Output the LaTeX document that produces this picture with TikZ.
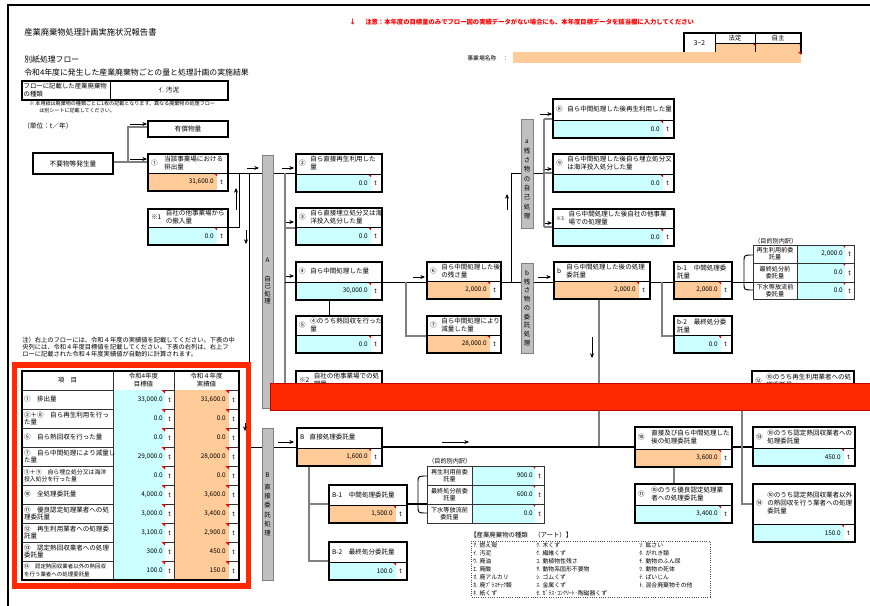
\documentclass[tikz,border=0pt]{standalone}
\usepackage{fontspec}
\setmainfont{Noto Sans CJK JP}
\usetikzlibrary{fit,arrows.meta}
\definecolor{peach}{HTML}{FFCC99}
\definecolor{cyanb}{HTML}{CCFFFF}
\definecolor{barg}{HTML}{C0C0C0}
\definecolor{lineg}{HTML}{808080}
\definecolor{redbar}{HTML}{FF2A00}
\definecolor{notered}{HTML}{FF0000}
\tikzset{
  lbl/.style={inner sep=1pt, font=\fontsize{4.9}{6}\selectfont, align=left},
  val/.style={inner sep=0pt, font=\fontsize{4.8}{5.5}\selectfont},
  glin/.style={draw=lineg, line width=1.3pt},
  blin/.style={draw=black, line width=0.7pt},
  bblin/.style={draw=black, line width=1.3pt},
  sarr/.style={-{Stealth[length=3.5pt,width=3pt]}, line width=0.5pt},
  vbar/.style={fill=barg, draw=lineg, line width=0.7pt},
  tline/.style={draw=black!80, line width=0.7pt},
  small/.style={inner sep=0pt, font=\fontsize{4.5}{5.4}\selectfont, align=center},
}
\newcommand\lb[3][3.5pt]{\begin{tabular}{@{}l@{\hspace{#1}}l@{}}#2&\begin{tabular}{@{}l@{}}#3\end{tabular}\end{tabular}}
% name, x1, y1, x2, y2, label, value, fill, border width
\newcommand\fbx[9]{%
  \fill[white] (#2,#3) rectangle (#4,#5);
  \fill[#8] (#2,#5-18) rectangle (#4-11,#5);
  \fill[red] (#4-11,#5-18) -- (#4-14.5,#5-18) -- (#4-11,#5-14.5) -- cycle;
  \draw[line width=0.7pt] (#2,#5-18) -- (#4,#5-18);
  \node[lbl,anchor=west] at (#2+1.5,{(#3+#5-18)/2}) {#6};
  \node[val,anchor=east] at (#4-14,#5-9) {#7};
  \node[val] at (#4-6.5,#5-9) {t};
  \node[inner sep=0pt,outer sep=0pt,fit={(#2,#3) (#4,#5)},draw,line width=#9] (#1) {};
}
% left table row: y1, label, v1, v2, fontsize
\newcommand\trow[5]{%
  \fill[cyanb] (113,#1) rectangle (165,#1+19);
  \fill[peach] (174,#1) rectangle (229,#1+19);
  \fill[red] (165,#1) -- (161.5,#1) -- (165,#1+3.5) -- cycle;
  \fill[red] (229,#1) -- (225.5,#1) -- (229,#1+3.5) -- cycle;
  \node[anchor=west, align=left, inner sep=1pt, font=\fontsize{#5}{5.4}\selectfont] at (22.5,#1+9.5) {#2};
  \node[val, anchor=east] at (163,#1+9.5) {#3};
  \node[val] at (169.5,#1+10) {t};
  \node[val, anchor=east] at (226,#1+9.5) {#4};
  \node[val] at (233.5,#1+10) {t};
  \draw[tline] (22,#1+19) -- (239,#1+19);
}
% sub table row: x1, xs, x2, y1, y2, label, value
\newcommand\srow[7]{%
  \fill[cyanb] (#2,#4) rectangle (#3-9,#5);
  \fill[red] (#3-9,#4) -- (#3-12,#4) -- (#3-9,#4+3) -- cycle;
  \node[small, font=\fontsize{4.6}{5.4}\selectfont] at ({(#1+#2)/2},{(#4+#5)/2}) {#6};
  \node[val, anchor=east] at (#3-11,{(#4+#5)/2}) {#7};
  \node[val] at (#3-4.5,{(#4+#5)/2+0.5}) {t};
  \draw[tline] (#1,#4) rectangle (#3,#5);
  \draw[tline] (#2,#4) -- (#2,#5);
}
\newcommand\lgi[3]{\node[anchor=west, inner sep=0pt, font=\fontsize{4.4}{5}\selectfont] at (#1,#2) {#3};}

\begin{document}
\begin{tikzpicture}[x=0.75pt,y=-0.75pt]
\useasboundingbox (0,0) rectangle (870,606);
\fill[white] (0,0) rectangle (870,606);

% outer frame
\draw[line width=1.5pt] (8,606) -- (8,5) -- (872,5);

% header
\node[anchor=west, inner sep=0pt, font=\fontsize{6.2}{7}\selectfont] (title) at (24,32) {産業廃棄物処理計画実施状況報告書};
\node[anchor=west, inner sep=0pt, font=\fontsize{5.9}{7}\selectfont] (sub1) at (24,60) {別紙処理フロー};
\node[anchor=west, inner sep=0pt, font=\fontsize{5.9}{7}\selectfont] (sub2) at (24,73) {令和4年度に発生した産業廃棄物ごとの量と処理計画の実施結果};
\draw[line width=1pt] (22,81) rectangle (228,100);
\draw[line width=0.7pt] (110,81) -- (110,100);
\node[anchor=west, align=left, inner sep=1pt, font=\fontsize{4.8}{6}\selectfont] (kindl) at (22,90.5) {フローに記載した産業廃棄物\\の種類};
\node[inner sep=0pt, font=\fontsize{4.9}{6}\selectfont] (kindv) at (169,90.5) {ｲ. 汚泥};
\node[anchor=west, inner sep=0pt, font=\fontsize{3.8}{5}\selectfont] (n1) at (29,104) {※ 本用紙は廃棄物の種類ごとに1枚の記載となります。異なる廃棄物の処理フロー};
\node[anchor=west, inner sep=0pt, font=\fontsize{3.8}{5}\selectfont] (n2) at (39,111) {は別シートに記載してください。};
\node[anchor=west, inner sep=0pt, font=\fontsize{5}{6}\selectfont] (unit) at (23,125.5) {（単位：t／年）};

\node[anchor=west, inner sep=0pt, text=notered, font=\bfseries\fontsize{5}{6}\selectfont] (ar0) at (349,22) {↓};
\node[anchor=west, inner sep=0pt, text=notered, font=\bfseries\fontsize{4.75}{6}\selectfont] (warn) at (365,22) {注意：本年度の目標量のみでフロー図の実績データがない場合にも、本年度目標データを該当欄に入力してください};

% 3-2 box
\fill[peach] (715,43) rectangle (801,53);
\fill[red] (755,43) -- (752,43) -- (755,46) -- cycle;
\fill[red] (801,43) -- (798,43) -- (801,46) -- cycle;
\draw[line width=1pt] (684,33) rectangle (801,53);
\draw[line width=0.7pt] (715,33) -- (715,53) (755,33) -- (755,53) (715,43) -- (801,43);
\node[inner sep=0pt, font=\fontsize{5}{6}\selectfont] (k32) at (699.5,43) {3−2};
\node[inner sep=0pt, font=\fontsize{4.8}{6}\selectfont] (khou) at (735,38) {法定};
\node[inner sep=0pt, font=\fontsize{4.8}{6}\selectfont] (kjis) at (778,38) {自主};
\node[anchor=west, inner sep=0pt, font=\fontsize{4.4}{6}\selectfont] (jname) at (467,58) {事業場名称　：};
\fill[peach] (513,52) rectangle (801,63);
\fill[red] (801,52) -- (798,52) -- (801,55) -- cycle;

% ---------- connectors ----------
\draw[glin] (113,162) -- (148,162);
\draw[glin] (128,162) -- (128,127) -- (148,127);
\draw[blin] (228,173) -- (262,173);
\draw[blin] (228,227) -- (239,227) -- (239,173);
\draw[blin] (249,173) -- (249,447) -- (262,447);
\draw[blin] (273,173) -- (296,173);
\draw[glin] (285,173) -- (285,383);
\draw[glin] (285,228) -- (296,228);
\draw[blin] (285,282) -- (296,282);
\draw[blin] (329,300) -- (329,316);
\draw[blin] (382,282) -- (427,282);
\draw[glin] (406,282) -- (406,336) -- (427,336);
\draw[blin] (501,282) -- (521,282);
\draw[blin] (511,282) -- (511,173) -- (521,173);
\draw[blin] (533,173) -- (544,173);
\draw[glin] (544,119) -- (544,227);
\draw[glin] (544,119) -- (553,119);
\draw[glin] (544,173) -- (553,173);
\draw[glin] (544,227) -- (553,227);
\draw[blin] (533,282) -- (554,282);
\draw[blin] (650,282) -- (674,282);
\draw[glin] (662,282) -- (662,336) -- (674,336);
\draw[blin] (732,282) -- (753,282);
\draw[blin] (753,255) .. controls (744,255) .. (744,262) -- (744,283) .. controls (744,290) .. (753,290);
\draw[glin] (599,299) -- (599,447);
\draw[blin] (273,447) -- (297,447);
\draw[bblin] (382,447) -- (635,447);
\draw[bblin] (732,447) -- (753,447);
\draw[glin] (742,383) -- (742,504) -- (753,504);
\draw[glin] (674,467) -- (674,484);
\draw[glin] (309,466) -- (309,561) -- (329,561);
\draw[glin] (309,504) -- (329,504);
\draw[bblin] (407,504) -- (427,504);
\draw[blin] (427,476) .. controls (418,476) .. (418,483) -- (418,506) .. controls (418,513) .. (427,513);

% ---------- bars ----------
\filldraw[vbar] (262,155) rectangle (273,408);
\node[inner sep=0pt, font=\fontsize{4.8}{6}\selectfont] (tA) at (267.5,260) {A};
\node[small, font=\fontsize{4.8}{5.5}\selectfont] (tA2) at (267.5,290) {自\\己\\処\\理};
\filldraw[vbar] (262,428) rectangle (273,580);
\node[inner sep=0pt, font=\fontsize{4.8}{6}\selectfont] (tB) at (267.5,475) {B};
\node[small, font=\fontsize{4.8}{6.9}\selectfont] (tB2) at (267.5,510) {直\\接\\委\\託\\処\\理};
\filldraw[vbar] (521,119) rectangle (533,228);
\node[small, font=\fontsize{4.8}{7}\selectfont] (ta) at (527,179.5) {a\\残\\さ\\物\\の\\自\\己\\処\\理};
\filldraw[vbar] (521,263) rectangle (533,353);
\node[small, font=\fontsize{4.8}{6.56}\selectfont] (tb) at (527,308) {b\\残\\さ\\物\\の\\委\\託\\処\\理};

% ---------- boxes ----------
\node[draw, line width=1.5pt, fill=white, inner sep=0pt, minimum width=60pt, minimum height=15.75pt, font=\fontsize{5}{6}\selectfont] (nf) at (73,163.5) {不要物等発生量};
\node[draw, line width=1.5pt, fill=white, inner sep=0pt, minimum width=60pt, minimum height=12pt, font=\fontsize{5}{6}\selectfont] (yuk) at (188,129) {有償物量};

\fbx{b1}{148}{154}{228}{191}{\lb[5pt]{①}{当該事業場における\\排出量}}{31,600.0}{peach}{1.5pt}
\fbx{s1}{148}{209}{228}{245}{\lb{※1}{自社の他事業場から\\の搬入量}}{0.0}{cyanb}{1.5pt}
\fbx{b2}{296}{154}{382}{192}{\lb{②}{自ら直接再生利用した\\量}}{0.0}{cyanb}{1.5pt}
\fbx{b3}{296}{208}{382}{245}{\lb{③}{自ら直接埋立処分又は海\\洋投入処分した量}}{0.0}{cyanb}{1.5pt}
\fbx{b4}{296}{262}{382}{300}{\lb{④}{自ら中間処理した量}}{30,000.0}{cyanb}{1.5pt}
\fbx{b5}{296}{316}{382}{353}{\lb{⑤}{④のうち熱回収を行った\\量}}{0.0}{cyanb}{1.5pt}
\fbx{s2}{296}{371}{382}{409}{\lb{※2}{自社の他事業場での処\\理量}}{0.0}{cyanb}{1.5pt}
\fbx{b6}{427}{262}{501}{299}{\lb{⑥}{自ら中間処理した後\\の残さ量}}{2,000.0}{peach}{1.5pt}
\fbx{b7}{427}{316}{501}{353}{\lb{⑦}{自ら中間処理により\\減量した量}}{28,000.0}{peach}{1.5pt}
\fbx{b8}{553}{99}{674}{138}{\lb{⑧}{自ら中間処理した後再生利用した量}}{0.0}{cyanb}{1.5pt}
\fbx{b9}{553}{154}{674}{192}{\lb{⑨}{自ら中間処理した後自ら埋立処分又\\は海洋投入処分した量}}{0.0}{cyanb}{1.5pt}
\fbx{s3}{553}{209}{674}{246}{\lb{{\fontsize{3.8}{4}\selectfont ※3}}{自ら中間処理した後自社の他事業\\場での処理量}}{0.0}{cyanb}{0.8pt}
\fbx{bb}{554}{262}{650}{299}{\lb[4pt]{b}{自ら中間処理した後の処理\\委託量}}{2,000.0}{peach}{0.8pt}
\fbx{bb1}{674}{262}{732}{299}{b-1\hspace{5pt}中間処理委\\託量}{2,000.0}{peach}{0.8pt}
\fbx{bb2}{674}{316}{732}{353}{b-2\hspace{5pt}最終処分委\\託量}{0.0}{cyanb}{0.8pt}
\fbx{b12}{752}{371}{854}{410}{\lb{⑫}{⑩のうち再生利用業者への処\\理委託量}}{}{cyanb}{1.5pt}
\fbx{BB}{297}{428}{382}{466}{\lb[4pt]{B}{直接処理委託量}}{1,600.0}{peach}{1pt}
\fbx{BB1}{329}{485}{407}{523}{B-1\hspace{5pt}中間処理委託量}{1,500.0}{peach}{1pt}
\fbx{BB2}{329}{542}{407}{580}{B-2\hspace{5pt}最終処分委託量}{100.0}{cyanb}{1pt}
\fbx{b10}{635}{427}{732}{467}{\lb[5pt]{⑩}{直接及び自ら中間処理した\\後の処理委託量}}{3,600.0}{peach}{1.5pt}
\fbx{b11}{635}{484}{732}{523}{\lb[5pt]{⑪}{⑩のうち優良認定処理業\\者への処理委託量}}{3,400.0}{cyanb}{1.5pt}
\fbx{b13}{753}{427}{855}{466}{\lb{⑬}{⑩のうち認定熱回収業者への\\処理委託量}}{450.0}{cyanb}{1.5pt}
\fbx{b14}{753}{484}{855}{542}{\lb{⑭}{⑩のうち認定熱回収業者以外\\の熱回収を行う業者への処理\\委託量}}{150.0}{cyanb}{1.5pt}

% sub tables
\node[anchor=west, inner sep=0pt, font=\fontsize{4.6}{5}\selectfont] (mk1) at (754,241) {（目的別内訳）};
\srow{753}{797}{854}{245}{263}{再生利用前委\\託量}{2,000.0}
\srow{753}{797}{854}{263}{282}{最終処分前\\委託量}{0.0}
\srow{753}{797}{854}{282}{299}{下水等放流前\\委託量}{0.0}
\node[anchor=west, inner sep=0pt, font=\fontsize{4.6}{5}\selectfont] (mk2) at (428,461) {（目的別内訳）};
\srow{427}{472}{544}{466}{485}{再生利用前委\\託量}{900.0}
\srow{427}{472}{544}{485}{504}{最終処分前委\\託量}{600.0}
\srow{427}{472}{544}{504}{523}{下水等放流前\\委託量}{0.0}

% small arrows
\draw[sarr] (130,124) -- (147,124);
\draw[sarr] (130,159) -- (147,159);
\draw[sarr] (247,168) -- (259,168);
\draw[sarr] (236,210) -- (236,188);
\draw[sarr] (246,230) -- (246,244);
\draw[sarr] (282,168) -- (294,168);
\draw[sarr] (286,222) -- (294,222);
\draw[sarr] (286,276) -- (294,276);
\draw[sarr] (413,277) -- (425,277);
\draw[sarr] (507,210) -- (507,194);
\draw[sarr] (540,114) -- (552,114);
\draw[sarr] (545,169) -- (552,169);
\draw[sarr] (545,223) -- (552,223);
\draw[sarr] (538,277) -- (551,277);
\draw[sarr] (592,337) -- (592,358);
\draw[sarr] (278,442) -- (294,442);
\draw[sarr] (442,442) -- (469,442);

% red bar
\filldraw[fill=redbar, draw=red!75!black, line width=0.6pt] (270,383) rectangle (872,410);

% left note and table
\node[anchor=north west, align=left, inner sep=0pt, font=\fontsize{4.7}{5.25}\selectfont] (note) at (22,337) {注）右上のフローには、令和４年度の実績値を記載してください。下表の中\\央列には、令和４年度目標値を記載してください。下表の右列は、右上フ\\ローに記載された令和４年度実績値が自動的に計算されます。};
\node[small, font=\fontsize{4.8}{6}\selectfont] (h1) at (67.5,380.5) {項　目};
\node[small, font=\fontsize{4.8}{6}\selectfont] (h2) at (143.5,380.5) {令和4年度\\目標値};
\node[small, font=\fontsize{4.8}{6}\selectfont] (h3) at (206.5,380.5) {令和４年度\\実績値};
\draw[tline] (22,390) -- (239,390);
\trow{390}{①　排出量}{33,000.0}{31,600.0}{4.9}
\trow{409}{②＋⑧　自ら再生利用を行っ\\た量}{0.0}{0.0}{4.9}
\trow{428}{⑤　自ら熱回収を行った量}{0.0}{0.0}{4.9}
\trow{447}{⑦　自ら中間処理により減量し\\た量}{29,000.0}{28,000.0}{4.9}
\trow{466}{③＋⑨　自ら埋立処分又は海洋\\投入処分を行った量}{0.0}{0.0}{4.4}
\trow{485}{⑩　全処理委託量}{4,000.0}{3,600.0}{4.9}
\trow{504}{⑪　優良認定処理業者への処\\理委託量}{3,000.0}{3,400.0}{4.9}
\trow{523}{⑫　再生利用業者への処理委\\託量}{3,100.0}{2,900.0}{4.9}
\trow{542}{⑬　認定熱回収業者への処理\\委託量}{300.0}{450.0}{4.9}
\trow{561}{⑭　認定熱回収業者以外の熱回収\\を行う業者への処理委託量}{100.0}{150.0}{4.1}
\draw[tline] (113,371) -- (113,580) (174,371) -- (174,580);
\draw[line width=1pt] (22,371) rectangle (239,580);
\draw[draw=redbar, line width=3.9pt] (14.5,365) rectangle (248.5,586);
\draw[sarr] (245,423) -- (245,431);

% legend
\node[anchor=west, inner sep=0pt, font=\fontsize{4.8}{6}\selectfont] (lgt) at (470,535) {【産業廃棄物の種類　（アート）】};
\draw[densely dotted, line width=0.7pt, draw=black!70] (471,541) rectangle (710,597);
\lgi{473}{545.5}{ｱ. 燃え殻}
\lgi{473}{553.5}{ｲ. 汚泥}
\lgi{473}{561.5}{ｳ. 廃油}
\lgi{473}{569.5}{ｴ. 廃酸}
\lgi{473}{577.5}{ｵ. 廃アルカリ}
\lgi{473}{585.5}{ｶ. 廃ﾌﾟﾗｽﾁｯｸ類}
\lgi{473}{593.5}{ｷ. 紙くず}
\lgi{536}{545.5}{ｸ. 木くず}
\lgi{536}{553.5}{ｹ. 繊維くず}
\lgi{536}{561.5}{ｺ. 動植物性残さ}
\lgi{536}{569.5}{ｻ. 動物系固形不要物}
\lgi{536}{577.5}{ｼ. ゴムくず}
\lgi{536}{585.5}{ｽ. 金属くず}
\lgi{536}{593.5}{ｾ. ｶﾞﾗｽ･ｺﾝｸﾘｰﾄ･陶磁器くず}
\lgi{639}{545.5}{ｿ. 鉱さい}
\lgi{639}{553.5}{ﾀ. がれき類}
\lgi{639}{561.5}{ﾁ. 動物のふん尿}
\lgi{639}{569.5}{ﾂ. 動物の死体}
\lgi{639}{577.5}{ﾃ. ばいじん}
\lgi{639}{585.5}{ﾄ. 混合廃棄物その他}
\end{tikzpicture}
\end{document}
